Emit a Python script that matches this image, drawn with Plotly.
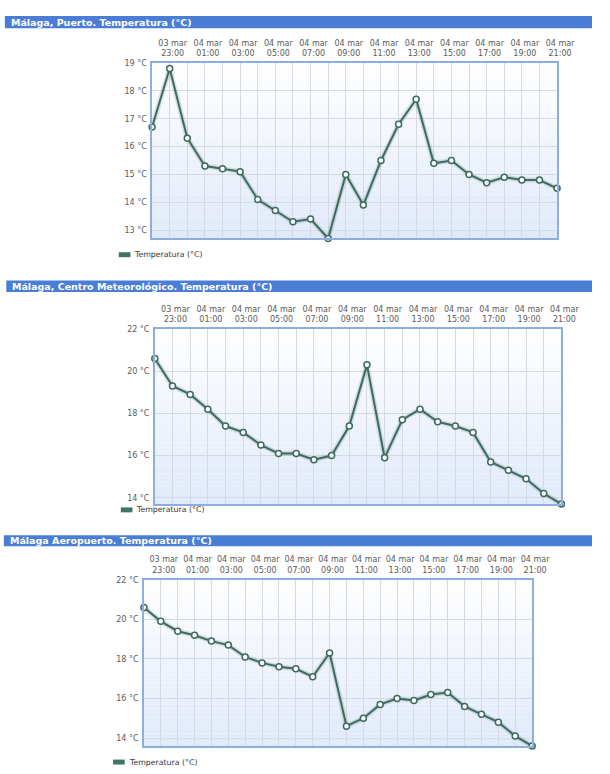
# ============================================
# TEMPERATURA EN MÁLAGA — TRES ESTACIONES
# ============================================

import plotly.graph_objects as go


# ============================================
# DATOS
# ============================================

horas = [
    "2024-03-03 22:00", "2024-03-03 23:00", "2024-03-04 00:00", "2024-03-04 01:00",
    "2024-03-04 02:00", "2024-03-04 03:00", "2024-03-04 04:00", "2024-03-04 05:00",
    "2024-03-04 06:00", "2024-03-04 07:00", "2024-03-04 08:00", "2024-03-04 09:00",
    "2024-03-04 10:00", "2024-03-04 11:00", "2024-03-04 12:00", "2024-03-04 13:00",
    "2024-03-04 14:00", "2024-03-04 15:00", "2024-03-04 16:00", "2024-03-04 17:00",
    "2024-03-04 18:00", "2024-03-04 19:00", "2024-03-04 20:00", "2024-03-04 21:00",
]

ticks_horas = [
    "2024-03-03 23:00", "2024-03-04 01:00", "2024-03-04 03:00", "2024-03-04 05:00",
    "2024-03-04 07:00", "2024-03-04 09:00", "2024-03-04 11:00", "2024-03-04 13:00",
    "2024-03-04 15:00", "2024-03-04 17:00", "2024-03-04 19:00", "2024-03-04 21:00",
]

ticks_texto = [
    "03 mar<br>23:00", "04 mar<br>01:00", "04 mar<br>03:00", "04 mar<br>05:00",
    "04 mar<br>07:00", "04 mar<br>09:00", "04 mar<br>11:00", "04 mar<br>13:00",
    "04 mar<br>15:00", "04 mar<br>17:00", "04 mar<br>19:00", "04 mar<br>21:00",
]

temp_puerto = [16.7, 18.8, 16.3, 15.3, 15.2, 15.1, 14.1, 13.7, 13.3, 13.4, 12.7, 15.0,
               13.9, 15.5, 16.8, 17.7, 15.4, 15.5, 15.0, 14.7, 14.9, 14.8, 14.8, 14.5]

temp_centro = [20.6, 19.3, 18.9, 18.2, 17.4, 17.1, 16.5, 16.1, 16.1, 15.8, 16.0, 17.4,
               20.3, 15.9, 17.7, 18.2, 17.6, 17.4, 17.1, 15.7, 15.3, 14.9, 14.2, 13.7]

temp_aeropuerto = [20.6, 19.9, 19.4, 19.2, 18.9, 18.7, 18.1, 17.8, 17.6, 17.5, 17.1, 18.3,
                   14.6, 15.0, 15.7, 16.0, 15.9, 16.2, 16.3, 15.6, 15.2, 14.8, 14.1, 13.6]

titulos = [
    "Málaga, Puerto. Temperatura (°C)",
    "Málaga, Centro Meteorológico. Temperatura (°C)",
    "Málaga Aeropuerto. Temperatura (°C)",
]

y_ticks = [
    [13, 14, 15, 16, 17, 18, 19],
    [14, 16, 18, 20, 22],
    [14, 16, 18, 20, 22],
]

y_rangos = [[12.7, 19], [13.7, 22], [13.6, 22]]

nombre_serie = "Temperatura (°C)"


# ============================================
# POSICIONES (en píxeles de la imagen)
# ============================================

W, H = 610, 774

# barra: (x0, y0, y1) ; area: (x0, y0, x1, y1) ; leyenda: (x swatch, y)
posiciones = [
    dict(barra=(5, 12, 24.5), area=(156.7, 59.3, 574.0, 235.7), leyenda=(122.4, 252)),
    dict(barra=(6.5, 278, 289.5), area=(159.5, 326.7, 578.5, 502.7), leyenda=(124.5, 508.5)),
    dict(barra=(4, 534, 545), area=(148.3, 578.8, 548.3, 745.8), leyenda=(116.5, 762)),
]

COLOR_LINEA = "#3d6b5e"
COLOR_BARRA = "#4a7ed6"
COLOR_BORDE = "#8daee0"
COLOR_GRID = "#d4d9e2"
COLOR_TEXTO = "#5a5a5a"
FUENTE = "DejaVu Sans"


def px_x(x):
    return x / W


def px_y(y):
    return 1 - y / H


# ============================================
# FIGURA
# ============================================

fig = go.Figure()
series = [temp_puerto, temp_centro, temp_aeropuerto]
shapes = []
annotations = []

for i, (temp, titulo, pos) in enumerate(zip(series, titulos, posiciones)):
    sufijo = "" if i == 0 else str(i + 1)
    xname, yname = "x" + sufijo, "y" + sufijo

    # sombra de la línea
    fig.add_trace(go.Scatter(
        x=horas, y=temp, xaxis=xname, yaxis=yname,
        mode="lines",
        line=dict(color="rgba(61,107,94,0.18)", width=5),
        hoverinfo="skip", showlegend=False, cliponaxis=False,
    ))

    fig.add_trace(go.Scatter(
        x=horas, y=temp, xaxis=xname, yaxis=yname,
        mode="lines+markers",
        name=nombre_serie,
        line=dict(color=COLOR_LINEA, width=2),
        marker=dict(size=6, color="white", line=dict(color=COLOR_LINEA, width=1.5)),
        showlegend=False, cliponaxis=False,
    ))

    ax0, ay0, ax1, ay1 = pos["area"]

    fig.update_layout({
        "xaxis" + sufijo: dict(
            domain=[px_x(ax0), px_x(ax1)],
            anchor=yname,
            type="date",
            side="top",
            range=[horas[0], horas[-1]],
            tickmode="array",
            tickvals=ticks_horas,
            ticktext=ticks_texto,
            ticks="",
            ticklabelshift=3,
            ticklabelstandoff=2,
            tickfont=dict(family=FUENTE, size=8, color=COLOR_TEXTO),
            showgrid=True,
            gridcolor=COLOR_GRID,
            gridwidth=1,
            minor=dict(tickmode="linear", tick0=horas[0], dtick=3600000,
                       showgrid=True, gridcolor=COLOR_GRID, gridwidth=1),
            showline=True,
            mirror=True,
            linecolor=COLOR_BORDE,
            linewidth=1.5,
            zeroline=False,
            fixedrange=True,
        ),
        "yaxis" + sufijo: dict(
            domain=[px_y(ay1), px_y(ay0)],
            anchor=xname,
            range=y_rangos[i],
            tickmode="array",
            tickvals=y_ticks[i],
            ticktext=[f"{v} °C" for v in y_ticks[i]],
            ticks="",
            ticklabelstandoff=2,
            tickfont=dict(family=FUENTE, size=8, color=COLOR_TEXTO),
            showgrid=True,
            gridcolor=COLOR_GRID,
            gridwidth=1,
            showline=True,
            mirror=True,
            linecolor=COLOR_BORDE,
            linewidth=1.5,
            zeroline=False,
            fixedrange=True,
        ),
    })

    # fondo degradado del área del gráfico
    n_bandas = 40
    for k in range(n_bandas):
        f = 1 - (k + 0.5) / n_bandas
        r = int(255 - (255 - 224) * f)
        g = int(255 - (255 - 234) * f)
        b = int(255 - (255 - 250) * f)
        shapes.append(dict(
            type="rect", xref=xname + " domain", yref=yname + " domain",
            x0=0, x1=1, y0=k / n_bandas, y1=(k + 1) / n_bandas,
            fillcolor=f"rgb({r},{g},{b})", line=dict(width=0), layer="below",
        ))

    # barra azul del título
    bx0, by0, by1 = pos["barra"]
    shapes.append(dict(
        type="rect", xref="paper", yref="paper",
        x0=px_x(bx0), x1=1, y0=px_y(by1), y1=px_y(by0),
        fillcolor=COLOR_BARRA, line=dict(width=0), layer="below",
    ))
    annotations.append(dict(
        text="<b>" + titulo + "</b>", xref="paper", yref="paper",
        x=px_x(bx0 + 4), y=px_y((by0 + by1) / 2),
        xanchor="left", yanchor="middle", showarrow=False,
        font=dict(family=FUENTE, size=9.5, color="white"),
    ))

    # leyenda
    lx, ly = pos["leyenda"]
    shapes.append(dict(
        type="rect", xref="paper", yref="paper",
        x0=px_x(lx), x1=px_x(lx + 12), y0=px_y(ly + 2.5), y1=px_y(ly - 2.5),
        fillcolor="#3f7564", line=dict(width=0),
    ))
    annotations.append(dict(
        text=nombre_serie, xref="paper", yref="paper",
        x=px_x(lx + 14), y=px_y(ly),
        xanchor="left", yanchor="middle", showarrow=False,
        font=dict(family=FUENTE, size=7.8, color="#333333"),
    ))

fig.update_layout(
    width=W,
    height=H,
    margin=dict(l=0, r=0, t=0, b=0),
    paper_bgcolor="white",
    plot_bgcolor="white",
    shapes=shapes,
    annotations=annotations,
    showlegend=False,
)

# sin margen ni barras de desplazamiento, para que la figura empiece en (0, 0)
fig.write_html(
    "out.html",
    config={"displayModeBar": False},
    post_script=(
        "document.body.style.margin = '0';"
        "document.body.style.overflow = 'hidden';"
        "document.documentElement.style.overflow = 'hidden';"
    ),
)
